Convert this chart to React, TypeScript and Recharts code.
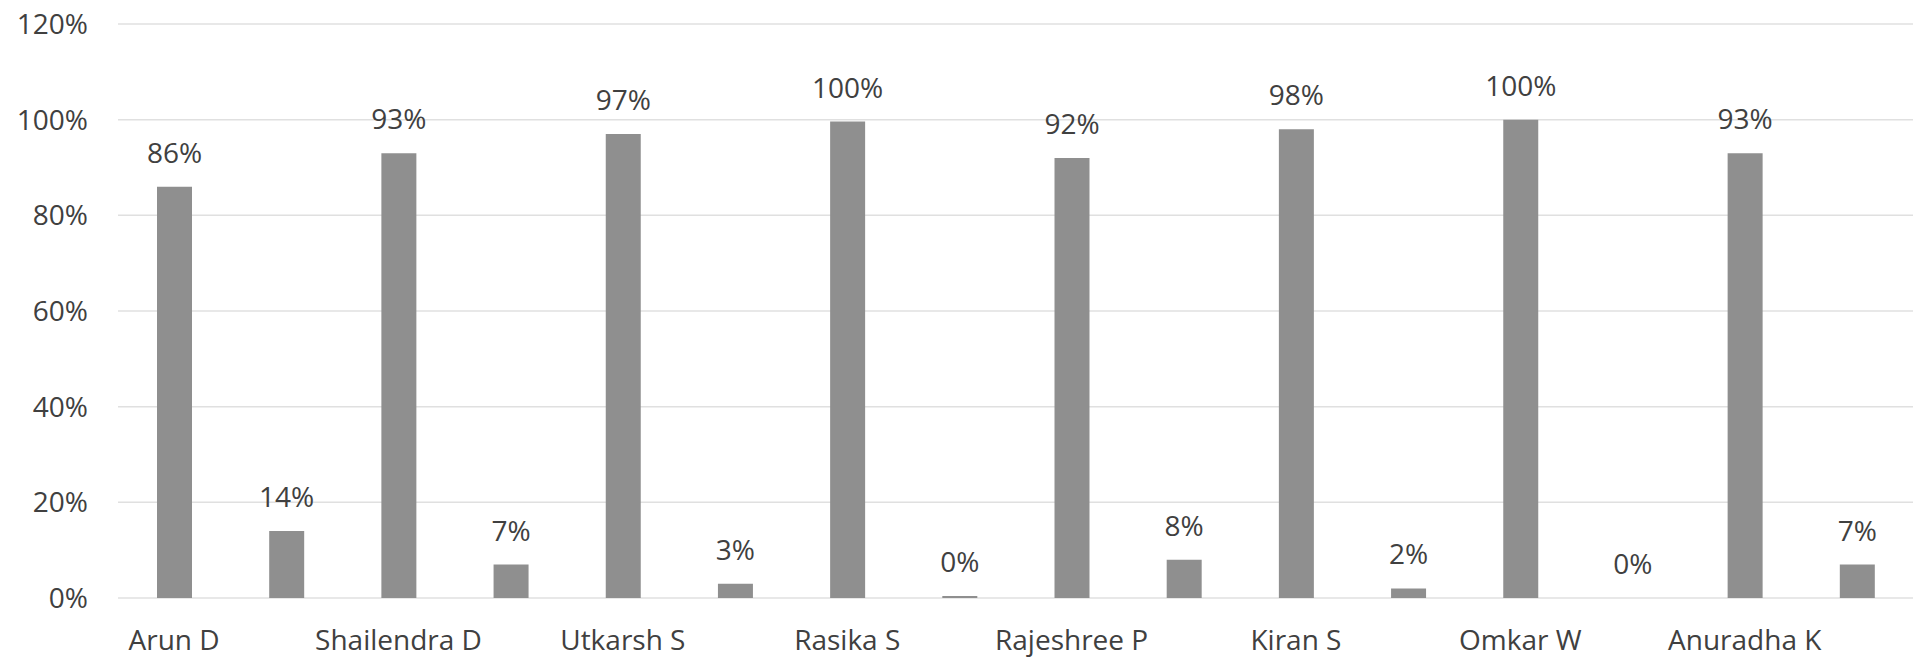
import React from "react";
import { BarChart, Bar, XAxis, YAxis, CartesianGrid, LabelList } from "recharts";

const names = ["Arun D", "Shailendra D", "Utkarsh S", "Rasika S", "Rajeshree P", "Kiran S", "Omkar W", "Anuradha K"];
const presentPct = [86, 93, 97, 99.6, 92, 98, 100, 93];
const absentPct = [14, 7, 3, 0.4, 8, 2, 0.01, 7];
const yTicks = [0, 20, 40, 60, 80, 100, 120];

const rows = names.flatMap((n, i) => [
  { slot: `${n}|P`, value: presentPct[i] },
  { slot: `${n}|A`, value: absentPct[i] },
]);

const FONT = "'Open Sans', sans-serif";
const TEXT = "#404040";

export default function App() {
  return (
    <div style={{ position: "absolute", left: 0, top: 0, width: 1913, height: 659, overflow: "hidden", background: "#fff" }}>
      <BarChart width={1913} height={659} data={rows} margin={{ top: 24, right: 0, bottom: 0, left: 0 }}>
        <CartesianGrid vertical={false} stroke="#e0e0e0" strokeWidth={1.5} />
        <XAxis
          dataKey="slot"
          interval={0}
          height={61}
          axisLine={false}
          tickLine={false}
          tickSize={0}
          tickMargin={32}
          tick={{ fontFamily: FONT, fontSize: 28, fill: TEXT }}
          tickFormatter={(v: string) => (v.endsWith("|P") ? v.slice(0, -2) : "")}
        />
        <YAxis
          width={118}
          domain={[0, 120]}
          ticks={yTicks}
          axisLine={false}
          tickLine={false}
          tickSize={0}
          tickMargin={30}
          tick={{ fontFamily: FONT, fontSize: 28, fill: TEXT }}
          tickFormatter={(v: number) => `${v}%`}
        />
        <Bar dataKey="value" fill="#8f8f8f" barSize={35} isAnimationActive={false}>
          <LabelList
            dataKey="value"
            position="top"
            offset={24}
            formatter={(v: number) => `${Math.round(v)}%`}
            style={{ fontFamily: FONT, fontSize: 28, fill: TEXT }}
          />
        </Bar>
      </BarChart>
    </div>
  );
}
